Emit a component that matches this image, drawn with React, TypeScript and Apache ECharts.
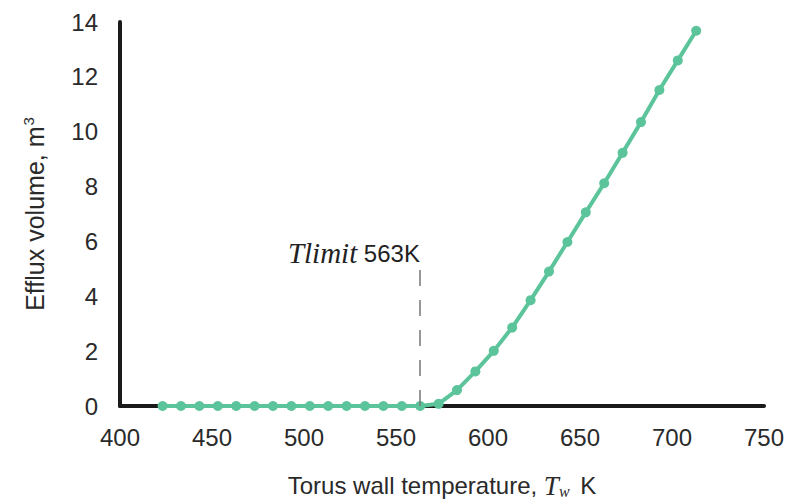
import React, { useEffect, useRef } from "react";
import * as echarts from "echarts";

const temperatures: number[] = [
  423.15, 433.15, 443.15, 453.15, 463.15, 473.15, 483.15, 493.15, 503.15, 513.15,
  523.15, 533.15, 543.15, 553.15, 563.15, 573.15, 583.15, 593.15, 603.15, 613.15,
  623.15, 633.15, 643.15, 653.15, 663.15, 673.15, 683.15, 693.15, 703.15, 713.15,
];
const effluxVolume: number[] = [
  0, 0, 0, 0, 0, 0, 0, 0, 0, 0,
  0, 0, 0, 0, 0, 0.08, 0.58, 1.26, 2.01, 2.86,
  3.86, 4.9, 5.98, 7.06, 8.12, 9.23, 10.35, 11.52, 12.6, 13.68,
];
const tLimit = 563;
const tLimitTop = 5;
const xTicks = { min: 400, max: 750, interval: 50 };
const yTicks = { min: 0, max: 14, interval: 2 };

export default function App() {
  const ref = useRef<HTMLDivElement>(null);
  useEffect(() => {
    if (!ref.current) return;
    const chart = echarts.init(ref.current, null, { renderer: "svg" });
    const sans = "Liberation Sans, Arial, sans-serif";
    const serif = "Liberation Serif, Times New Roman, serif";
    chart.setOption({
      animation: false,
      backgroundColor: "#ffffff",
      grid: { left: 120, right: 37, top: 22, bottom: 93 },
      xAxis: {
        type: "value",
        min: xTicks.min,
        max: xTicks.max,
        interval: xTicks.interval,
        axisLine: { show: true, lineStyle: { color: "#1a1a1a", width: 4 } },
        axisTick: { show: false },
        splitLine: { show: false },
        axisLabel: { color: "#2a2a2a", fontSize: 24, fontFamily: sans, margin: 19 },
        name: "{a|Torus wall temperature, }{t|T}{w|w}{a| K}",
        nameLocation: "middle",
        nameGap: 66,
        nameTextStyle: {
          rich: {
            a: { fontSize: 24, fontFamily: sans, color: "#2a2a2a" },
            t: { fontSize: 27, fontFamily: serif, fontStyle: "italic", color: "#2a2a2a" },
            w: { fontSize: 16, fontFamily: serif, fontStyle: "italic", color: "#2a2a2a", verticalAlign: "bottom", padding: [11, 4, 0, 0] },
          },
        },
      },
      yAxis: {
        type: "value",
        min: yTicks.min,
        max: yTicks.max,
        interval: yTicks.interval,
        axisLine: { show: true, lineStyle: { color: "#1a1a1a", width: 4 } },
        axisTick: { show: false },
        splitLine: { show: false },
        axisLabel: { color: "#2a2a2a", fontSize: 24, fontFamily: sans, margin: 22 },
        name: "{a|Efflux volume, m}{s|3}",
        nameLocation: "middle",
        nameGap: 72,
        nameRotate: 90,
        nameTextStyle: {
          rich: {
            a: { fontSize: 25, fontFamily: sans, color: "#2a2a2a" },
            s: { fontSize: 15, fontFamily: sans, color: "#2a2a2a", verticalAlign: "top", padding: [0, 0, 12, 1] },
          },
        },
      },
      series: [
        {
          type: "line",
          data: temperatures.map((t, i) => [t, effluxVolume[i]]),
          symbol: "circle",
          symbolSize: 10,
          lineStyle: { color: "#5cc49b", width: 4 },
          itemStyle: { color: "#5cc49b" },
          z: 3,
        },
        {
          type: "line",
          data: [],
          markLine: {
            silent: true,
            symbol: "none",
            lineStyle: { color: "#777", width: 1.5, type: [16, 14] },
            label: { show: false },
            data: [[{ coord: [tLimit, 0] }, { coord: [tLimit, tLimitTop] }]],
          },
          markPoint: {
            silent: true,
            symbol: "circle",
            symbolSize: 0.1,
            data: [{ coord: [tLimit, tLimitTop] }],
            label: {
              show: true,
              position: "top",
              align: "right",
              verticalAlign: "bottom",
              distance: 1,
              formatter: "{i|Tlimit}{n| 563K}",
              rich: {
                i: { fontSize: 29, fontFamily: serif, fontStyle: "italic", color: "#222" },
                n: { fontSize: 24, fontFamily: sans, color: "#222" },
              },
            },
          },
          z: 2,
        },
      ],
    });
    return () => chart.dispose();
  }, []);
  return <div ref={ref} style={{ width: 801, height: 504, position: "absolute", left: 0, top: 0 }} />;
}
